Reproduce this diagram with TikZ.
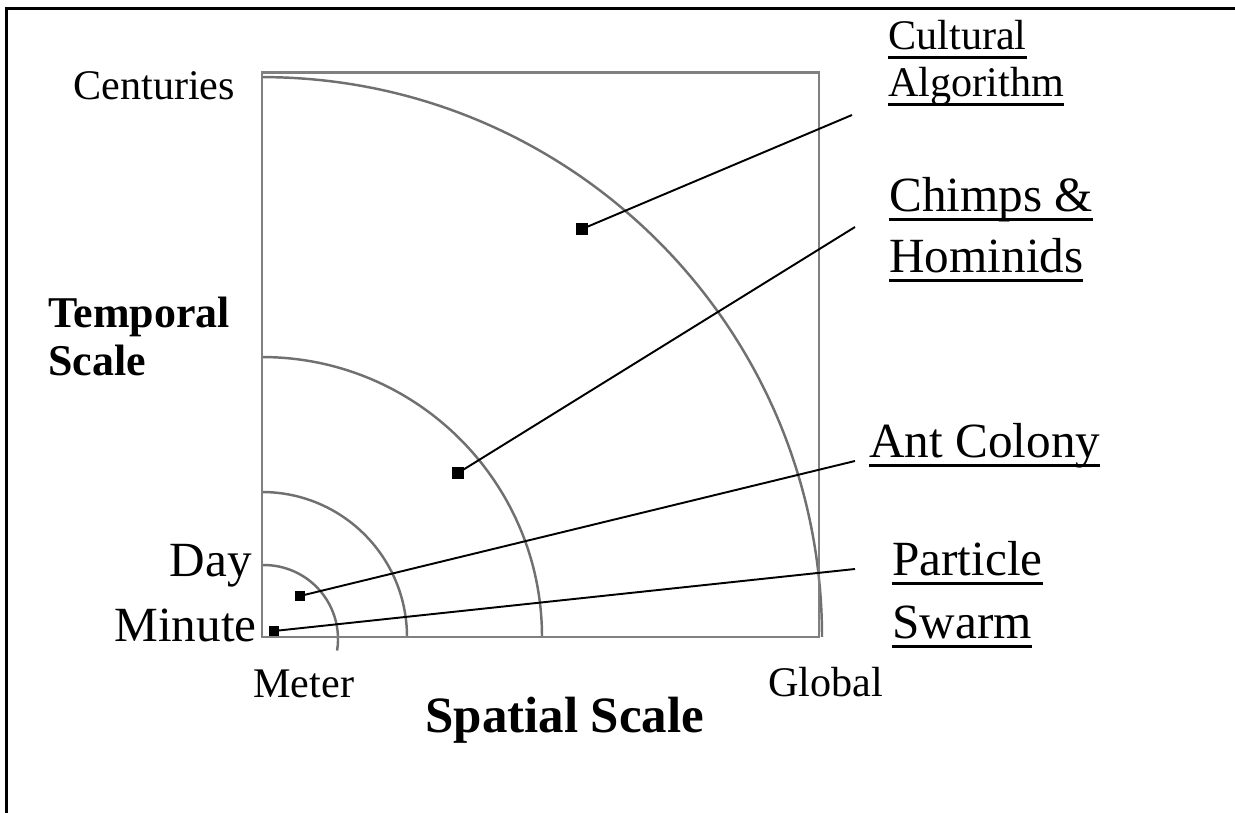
\documentclass[tikz,border=0pt]{standalone}
\usepackage{fontspec}
\setmainfont{Liberation Serif}
\usepackage{tikz}
\definecolor{ssgray}{HTML}{808080}
\definecolor{ssarc}{HTML}{707070}
\newcommand{\ulbox}[1]{\setbox0\hbox{#1}\rlap{\vrule height -3.7pt depth 5.4pt width \wd0}\box0}

\begin{document}
\begin{tikzpicture}[x=0.02cm, y=-0.02cm,
  lbl/.style={anchor=base west, inner sep=0pt, font=\fontsize{24}{28}\selectfont},
  biglbl/.style={anchor=base west, inner sep=0pt, font=\fontsize{28}{34}\selectfont},
  axislbl/.style={anchor=base west, inner sep=0pt, font=\fontsize{25}{30}\selectfont\bfseries},
  pt/.style={fill=black, inner sep=0pt, minimum size=0.25cm},
  lead/.style={draw=black, line width=1.1pt},
  ring/.style={draw=ssarc, line width=1.4pt},
  frame/.style={draw=ssgray, line width=1.7pt}
]
\useasboundingbox (0,0) rectangle (1235,813);
\draw[line width=1.7pt] (6.5,820) -- (6.5,8.5) -- (1245,8.5);

% Scale rings
\draw[ring] (337.1,650.6) arc[start angle=-9, end angle=92, radius=1.48cm];
\draw[ring] (407,637) arc[start angle=0, end angle=90, radius=2.9cm];
\draw[ring] (542,637) arc[start angle=0, end angle=90, radius=5.6cm];
\draw[ring] (822,637) arc[start angle=0, end angle=90, radius=11.2cm];
\draw[frame] (262,73) rectangle (819,637);

% Axis labels
\node[lbl] (cent) at (73,100) {Centuries};
\node[axislbl] (temp) at (48,328) {Temporal};
\node[axislbl] (tscale) at (48,376) {Scale};
\node[biglbl, anchor=base east] (day) at (252,577) {Day};
\node[biglbl, anchor=base east] (minute) at (257,642) {Minute};
\node[lbl] (meter) at (253,698) {Meter};
\node[lbl] (global) at (768,697) {Global};
\node[axislbl, font=\fontsize{29}{34}\selectfont\bfseries] (spatial) at (425,733) {Spatial Scale};

% Systems
\node[lbl] (cult) at (888,50) {\ulbox{Cultural}};
\node[lbl] (algo) at (888,97) {\ulbox{Algorithm}};
\node[biglbl] (chimp) at (889,212) {\ulbox{Chimps \&}};
\node[biglbl] (homin) at (889,273) {\ulbox{Hominids}};
\node[biglbl] (ant) at (869,458) {\ulbox{Ant Colony}};
\node[biglbl] (part) at (892,576) {\ulbox{Particle}};
\node[biglbl] (swarm) at (892,639) {\ulbox{Swarm}};

\node[pt] (ca) at (582,229) {};
\node[pt] (ch) at (458,473) {};
\node[pt, minimum size=0.19cm] (ac) at (300,596) {};
\node[pt, minimum size=0.19cm] (ps) at (274,631) {};

\coordinate (caend) at (852,115);
\coordinate (chend) at (855,227);
\coordinate (acend) at (855,461);
\coordinate (psend) at (855,569);

\draw[lead] (ca.center) -- (caend);
\draw[lead] (ch.center) -- (chend);
\draw[lead] (ac.center) -- (acend);
\draw[lead] (ps.center) -- (psend);
\end{tikzpicture}
\end{document}
